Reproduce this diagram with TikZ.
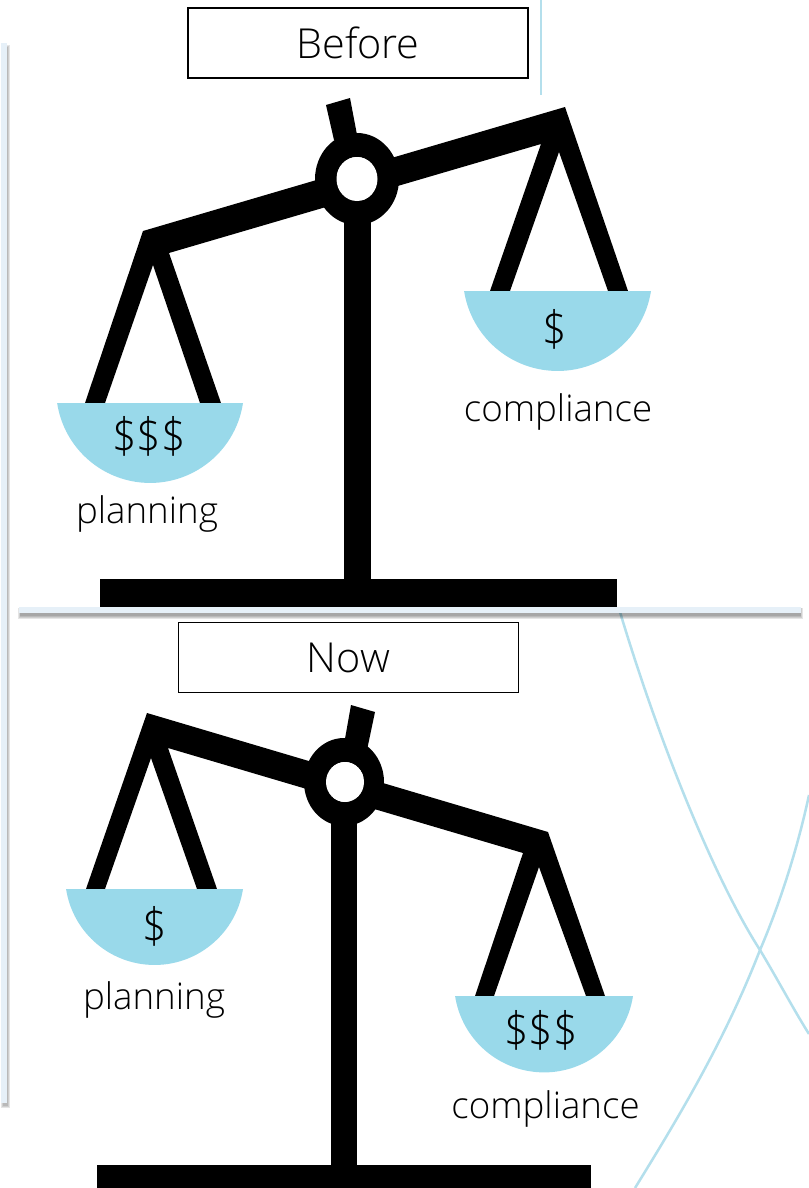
\documentclass[tikz,border=0pt]{standalone}
\usepackage{fontspec}
\setmainfont{Open Sans Light}
\definecolor{panblue}{HTML}{99D9EA}
\definecolor{paleblue}{HTML}{E6F0F8}
\definecolor{curveblue}{HTML}{B4DFEC}
\tikzset{
  x=0.75pt,y=-0.75pt,
  titlebox/.style={draw=black,line width=1.2pt,fill=white,minimum width=255pt,minimum height=52.5pt,inner sep=0pt,font=\fontsize{31}{33}\selectfont},
  lbl/.style={inner sep=0pt,anchor=base,font=\fontsize{27.5}{30}\selectfont},
  money/.style={inner sep=0pt,font=\fontsize{30}{32}\selectfont},
  ink/.style={fill=black,draw=none},
  pan/.style={fill=panblue,draw=none},
  deco/.style={draw=curveblue,line width=1.9pt},
  soft/.style={fill=black,opacity=0.10,draw=none},
}
\newcommand{\moneytext}[1]{\scalebox{1.07}[1.22]{#1}}
\begin{document}
\begin{tikzpicture}
\useasboundingbox (0,0) rectangle (809,1188);
% decoration
\fill[soft] (1,45) rectangle (10,1108);
\fill[soft] (2,46) rectangle (9,1107);
\fill[soft] (3,47) rectangle (8,1106);
\fill[paleblue] (1,43) rectangle (7,1103);
\draw[curveblue,line width=2pt] (541,0) -- (541,95);
\draw[deco] (620,612) .. controls (660,745) and (715,880) .. (760,950) .. controls (778,980) and (795,1012) .. (809,1034);
\draw[deco] (809,795) .. controls (795,860) and (775,915) .. (760,950) .. controls (725,1040) and (680,1115) .. (635,1188);
\fill[soft] (18,608) rectangle (803,619);
\fill[soft] (19,608) rectangle (802,618);
\fill[soft] (20,608) rectangle (801,617);
\fill[soft] (20,608) rectangle (801,616);
\fill[paleblue] (19,607) rectangle (801,612.5);
% upper balance
\fill[ink] (100,579) rectangle (617,607);
\fill[ink] (344,200) rectangle (371,580);
\fill[ink] (326,105) -- (350,98) -- (358,140) -- (334,140) -- cycle;
\fill[ink] (143,231) -- (565,107) -- (628,291) -- (608,291) -- (559,152) -- (510,291) -- (490,291) -- (541,144) -- (169,253) -- (221,403) -- (200,403) -- (153,265) -- (105,403) -- (85,403) -- cycle;
\fill[ink,even odd rule] (357,179) ellipse [x radius=42,y radius=46] (357,179) ellipse [x radius=20.5,y radius=22];
\fill[white] (357,179) ellipse [x radius=20.5,y radius=22];
\fill[pan] (464,291) -- (651,291) arc [start angle=8.9,end angle=171.1,radius=94.6] -- cycle;
\fill[pan] (57,403) -- (243,403) arc [start angle=8.6,end angle=171.4,radius=94] -- cycle;
% lower balance
\fill[ink] (97,1165) rectangle (591,1188);
\fill[ink] (331,810) rectangle (357,1166);
\fill[ink] (351,705) -- (375,712) -- (367,750) -- (343,750) -- cycle;
\fill[ink] (147,713) -- (548,832) -- (605,996) -- (586,996) -- (539,867) -- (494,996) -- (475,996) -- (523,853) -- (168,748) -- (217,889) -- (197,889) -- (151,758) -- (105,889) -- (86,889) -- cycle;
\fill[ink,even odd rule] (344,782) ellipse [x radius=40,y radius=44] (345,782) ellipse [x radius=19,y radius=20];
\fill[white] (345,782) ellipse [x radius=19,y radius=20];
\fill[pan] (66,889) -- (243,889) arc [start angle=8.7,end angle=171.3,radius=89.5] -- cycle;
\fill[pan] (455,996) -- (633,996) arc [start angle=8.7,end angle=171.3,radius=90] -- cycle;
% text
\node[titlebox] (before) at (358,43) {Before};
\node[titlebox] (now) at (348.5,657.5) {Now};
\node[money] (m1) at (149,436) {\moneytext{\$\$\$}};
\node[money] (m2) at (555,329) {\moneytext{\$}};
\node[money] (m3) at (155,926) {\moneytext{\$}};
\node[money] (m4) at (541,1030) {\moneytext{\$\$\$}};
\node[lbl] (l1) at (147,523) {planning};
\node[lbl] (l2) at (558,421) {compliance};
\node[lbl] (l3) at (154,1009) {planning};
\node[lbl] (l4) at (545.5,1118) {compliance};
\end{tikzpicture}
\end{document}
